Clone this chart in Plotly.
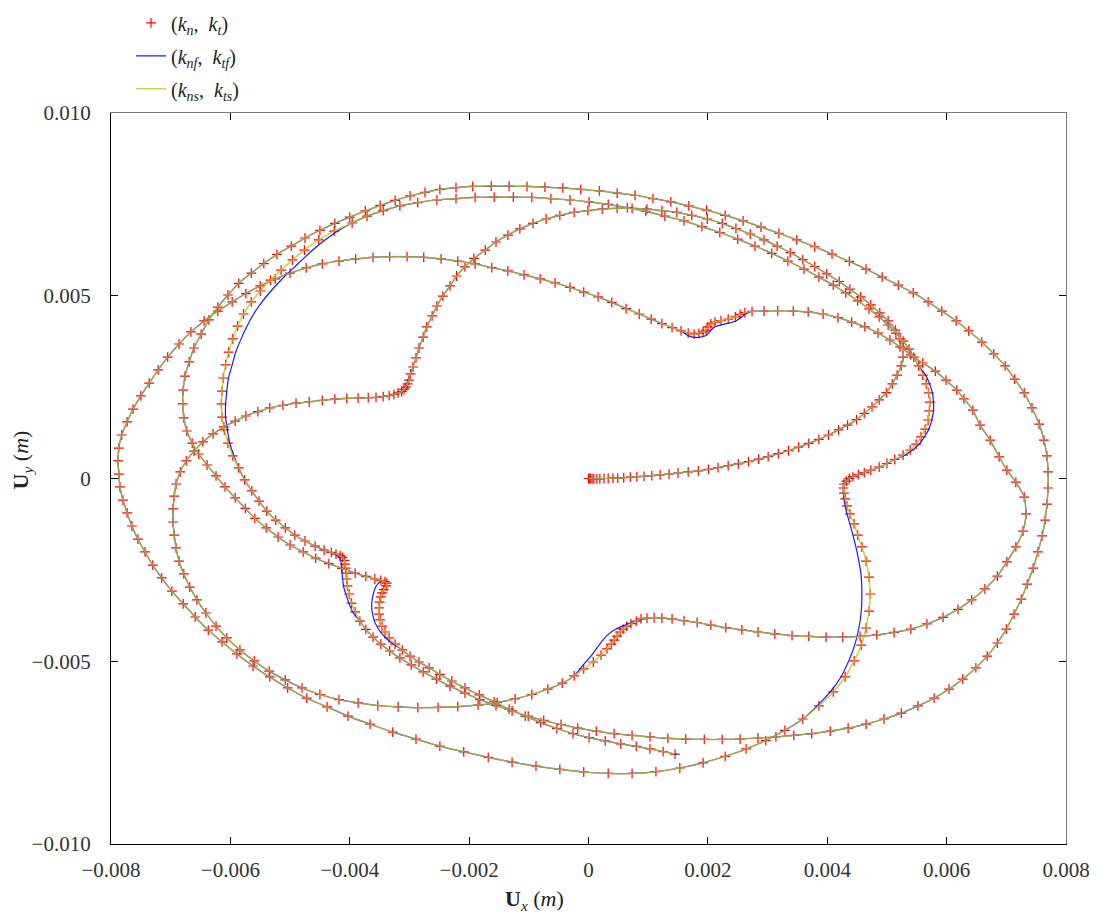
import plotly.graph_objects as go

MM = 1e-3  # values below are read in millimetres

# ---- path segments (mm) shared by the three models ----
a_x = [0, 0.01, 0.03, 0.06, 0.09, 0.14, 0.19, 0.26, 0.33, 0.41, 0.49, 0.59, 0.70, 0.81, 0.93, 1.06, 1.20, 1.35, 1.50, 1.67,
       1.84, 2.01, 2.17, 2.34, 2.51, 2.68, 2.85, 3.01, 3.18, 3.35, 3.52, 3.69, 3.86, 4.02, 4.19, 4.34, 4.49, 4.62, 4.75, 4.87,
       4.99, 5.09, 5.17, 5.24, 5.27, 5.27, 5.22, 5.14, 5.02, 4.88, 4.73, 4.56, 4.38, 4.20, 3.99, 3.79, 3.59, 3.38, 3.16, 2.94,
       2.71, 2.47, 2.24, 1.99, 1.73, 1.48, 1.23, 0.98, 0.73, 0.48, 0.23, -0.01, -0.24, -0.48, -0.71, -0.93, -1.15, -1.35, -1.55, -1.73,
       -1.92, -2.07, -2.21, -2.32, -2.44, -2.54, -2.62, -2.71, -2.77, -2.84, -2.89, -2.94, -2.98, -3.01, -3.03, -3.06, -3.09, -3.13, -3.19, -3.26,
       -3.34, -3.44, -3.56, -3.69, -3.86, -4.05, -4.25, -4.46, -4.68, -4.90, -5.12, -5.34, -5.54, -5.74, -5.92, -6.11, -6.29, -6.46, -6.61, -6.74,
       -6.84, -6.91, -6.94, -6.96, -6.96, -6.94, -6.91, -6.86, -6.78, -6.68, -6.56, -6.41, -6.24, -6.06, -5.84, -5.60, -5.35, -5.08, -4.80, -4.50,
       -4.18, -3.86, -3.53, -3.19, -2.86, -2.52, -2.19, -1.85, -1.53, -1.23, -0.95, -0.68, -0.44, -0.24]
a_y = [0, 0.00, 0.00, -0.01, -0.01, -0.01, -0.01, 0.00, 0.00, 0.01, 0.01, 0.02, 0.04, 0.05, 0.06, 0.08, 0.10, 0.12, 0.15, 0.18,
       0.21, 0.25, 0.30, 0.35, 0.40, 0.46, 0.53, 0.60, 0.68, 0.76, 0.86, 0.96, 1.07, 1.19, 1.33, 1.46, 1.61, 1.78, 1.96, 2.15,
       2.35, 2.59, 2.83, 3.08, 3.32, 3.57, 3.82, 4.06, 4.31, 4.53, 4.75, 4.97, 5.18, 5.39, 5.60, 5.80, 5.99, 6.18, 6.36, 6.53,
       6.69, 6.84, 6.98, 7.10, 7.20, 7.28, 7.33, 7.37, 7.39, 7.39, 7.37, 7.33, 7.28, 7.20, 7.10, 6.98, 6.83, 6.66, 6.47, 6.25,
       6.02, 5.79, 5.54, 5.27, 4.99, 4.72, 4.45, 4.15, 3.87, 3.57, 3.30, 3.05, 2.86, 2.69, 2.59, 2.50, 2.44, 2.38, 2.34, 2.30,
       2.27, 2.24, 2.22, 2.21, 2.20, 2.19, 2.17, 2.14, 2.10, 2.06, 2.00, 1.93, 1.83, 1.71, 1.57, 1.41, 1.22, 1.00, 0.75, 0.48,
       0.18, -0.15, -0.48, -0.83, -1.19, -1.55, -1.90, -2.26, -2.61, -2.97, -3.32, -3.68, -4.04, -4.36, -4.69, -4.99, -5.27, -5.51, -5.73, -5.91,
       -6.05, -6.14, -6.21, -6.25, -6.27, -6.26, -6.24, -6.20, -6.13, -6.03, -5.91, -5.76, -5.60, -5.40]

bk_red_x = [-0.08, 0.08, 0.21, 0.31, 0.38, 0.43, 0.48, 0.53, 0.58, 0.64, 0.71, 0.80, 0.88]
bk_red_y = [-5.21, -5.02, -4.83, -4.66, -4.53, -4.42, -4.31, -4.20, -4.12, -4.04, -3.97, -3.90, -3.84]
bk_blue_x = [-0.09, 0.03, 0.14, 0.24, 0.34, 0.44, 0.54, 0.66, 0.78, 0.88]
bk_blue_y = [-5.10, -4.88, -4.64, -4.42, -4.25, -4.14, -4.06, -3.98, -3.91, -3.86]

c_x = [0.98, 1.10, 1.23, 1.40, 1.60, 1.82, 2.05, 2.30, 2.57, 2.84, 3.12, 3.41, 3.69, 3.98, 4.26, 4.55, 4.83, 5.12, 5.40, 5.67,
       5.94, 6.19, 6.42, 6.64, 6.85, 7.01, 7.16, 7.28, 7.33, 7.30, 7.16, 7.01, 6.88, 6.73, 6.56, 6.44, 6.29, 6.17, 5.99, 5.81,
       5.60, 5.40, 5.22, 5.05, 4.85, 4.63, 4.41, 4.18, 3.93, 3.68, 3.43, 3.17, 2.94, 2.74]
c_y = [-3.82, -3.81, -3.82, -3.84, -3.89, -3.94, -4.01, -4.08, -4.14, -4.20, -4.25, -4.30, -4.32, -4.34, -4.34, -4.32, -4.28, -4.21, -4.12, -3.98,
       -3.80, -3.58, -3.32, -3.02, -2.67, -2.28, -1.87, -1.44, -0.97, -0.51, -0.10, 0.23, 0.59, 1.05, 1.46, 1.87, 2.18, 2.42, 2.69, 2.94,
       3.16, 3.38, 3.60, 3.79, 3.98, 4.15, 4.28, 4.40, 4.50, 4.56, 4.58, 4.59, 4.58, 4.57]

d_red_x = [2.62, 2.54, 2.46, 2.34, 2.22, 2.12, 2.05, 2.00, 1.97, 1.92, 1.85, 1.77, 1.67]
d_red_y = [4.54, 4.49, 4.42, 4.36, 4.32, 4.28, 4.23, 4.15, 4.06, 4.01, 3.97, 3.95, 3.98]
d_blue_x = [2.64, 2.55, 2.47, 2.35, 2.24, 2.13, 2.07, 2.02, 1.97, 1.88, 1.78, 1.67]
d_blue_y = [4.51, 4.40, 4.31, 4.25, 4.21, 4.16, 4.09, 3.99, 3.91, 3.87, 3.86, 3.91]

e_x = [1.55, 1.40, 1.23, 1.05, 0.85, 0.63, 0.39, 0.16, -0.08, -0.31, -0.56, -0.81, -1.08, -1.35, -1.62, -1.90, -2.19, -2.47, -2.76, -3.04,
       -3.33, -3.61, -3.90, -4.18, -4.46, -4.73, -5.00, -5.25, -5.50, -5.74, -5.97, -6.21, -6.44, -6.66, -6.86, -7.05, -7.21, -7.36, -7.50, -7.63,
       -7.73, -7.82, -7.87, -7.88, -7.87, -7.85, -7.80, -7.73, -7.65, -7.55, -7.43, -7.30, -7.15, -6.98, -6.79, -6.59, -6.37, -6.14, -5.89, -5.62,
       -5.34, -5.04, -4.72, -4.38, -4.03, -3.66, -3.28, -2.89, -2.49, -2.09, -1.68, -1.28, -0.88, -0.48, -0.08, 0.33, 0.73, 1.13, 1.53, 1.92,
       2.29, 2.64, 2.97, 3.29, 3.59]
e_y = [4.04, 4.13, 4.24, 4.36, 4.50, 4.65, 4.82, 4.97, 5.10, 5.23, 5.35, 5.46, 5.57, 5.68, 5.77, 5.87, 5.95, 6.01, 6.05, 6.07,
       6.07, 6.05, 6.01, 5.95, 5.87, 5.76, 5.62, 5.46, 5.27, 5.06, 4.83, 4.58, 4.31, 4.01, 3.68, 3.32, 2.97, 2.61, 2.26, 1.90,
       1.55, 1.19, 0.83, 0.48, 0.12, -0.23, -0.59, -0.94, -1.30, -1.66, -2.01, -2.37, -2.72, -3.08, -3.43, -3.79, -4.15, -4.47, -4.80, -5.13,
       -5.43, -5.73, -6.01, -6.25, -6.50, -6.72, -6.94, -7.13, -7.32, -7.48, -7.63, -7.76, -7.87, -7.96, -8.03, -8.07, -8.07, -8.02, -7.92, -7.78,
       -7.60, -7.40, -7.17, -6.89, -6.58]

f_red_x = [3.86, 4.10, 4.30, 4.45, 4.57, 4.65, 4.70, 4.72, 4.70, 4.65, 4.58, 4.51, 4.45, 4.38, 4.33, 4.30, 4.28]
f_red_y = [-6.22, -5.84, -5.43, -4.99, -4.56, -4.09, -3.63, -3.16, -2.70, -2.26, -1.87, -1.55, -1.24, -0.97, -0.75, -0.56, -0.40]
f_blue_x = [3.83, 4.05, 4.23, 4.36, 4.46, 4.53, 4.57, 4.58, 4.57, 4.53, 4.48, 4.43, 4.38, 4.33, 4.30, 4.28, 4.27]
f_blue_y = [-6.22, -5.84, -5.43, -4.99, -4.56, -4.09, -3.63, -3.16, -2.70, -2.26, -1.87, -1.55, -1.24, -0.97, -0.75, -0.56, -0.40]

g_x = [4.27, 4.28, 4.32, 4.37, 4.43, 4.52, 4.62, 4.73, 4.87, 5.00, 5.13]
g_y = [-0.26, -0.15, -0.07, 0.00, 0.05, 0.11, 0.16, 0.23, 0.31, 0.41, 0.52]

h_red_x = [5.27, 5.39, 5.49, 5.57, 5.64, 5.69, 5.71, 5.72, 5.70, 5.66, 5.60]
h_red_y = [0.64, 0.78, 0.94, 1.14, 1.35, 1.60, 1.85, 2.09, 2.34, 2.59, 2.83]
h_blue_x = [5.28, 5.41, 5.53, 5.62, 5.70, 5.75, 5.78, 5.78, 5.76, 5.71, 5.64]
h_blue_y = [0.62, 0.76, 0.92, 1.12, 1.34, 1.59, 1.85, 2.10, 2.36, 2.61, 2.85]

i_x = [5.53, 5.45, 5.37, 5.27, 5.15, 5.02, 4.87, 4.70, 4.51, 4.31, 4.10, 3.86, 3.61, 3.34, 3.07, 2.79, 2.50, 2.20, 1.90, 1.60,
       1.28, 0.96, 0.65, 0.33, 0.01, -0.31, -0.63, -0.95, -1.26, -1.58, -1.90, -2.22, -2.54, -2.86, -3.16, -3.44, -3.71, -3.96]
i_y = [3.08, 3.32, 3.54, 3.76, 3.98, 4.20, 4.42, 4.64, 4.86, 5.08, 5.29, 5.51, 5.73, 5.95, 6.16, 6.36, 6.55, 6.73, 6.89, 7.05,
       7.18, 7.31, 7.41, 7.50, 7.57, 7.62, 7.66, 7.69, 7.70, 7.70, 7.69, 7.66, 7.62, 7.55, 7.46, 7.33, 7.18, 6.99]

j_red_x = [-4.26, -4.52, -4.76, -4.96, -5.15, -5.33, -5.50, -5.65, -5.78, -5.88, -5.96, -6.03, -6.08, -6.12, -6.14, -6.15, -6.14, -6.10, -6.04, -5.96]
j_blue_x = [-4.20, -4.41, -4.62, -4.80, -4.98, -5.15, -5.32, -5.47, -5.61, -5.72, -5.82, -5.91, -5.97, -6.03, -6.06, -6.08, -6.08, -6.05, -6.01, -5.94]
j_y = [6.77, 6.53, 6.25, 5.98, 5.70, 5.43, 5.13, 4.83, 4.50, 4.17, 3.82, 3.46, 3.11, 2.75, 2.39, 2.04, 1.68, 1.33, 0.97, 0.62]

k_x = [-5.86, -5.76, -5.64, -5.52, -5.39, -5.24, -5.08, -4.92, -4.75, -4.58, -4.43, -4.31]
k_y = [0.29, -0.04, -0.34, -0.62, -0.89, -1.14, -1.35, -1.55, -1.71, -1.85, -1.96, -2.02]

l_red_x = [-4.23, -4.16, -4.12, -4.09, -4.08, -4.07, -4.06, -4.05, -4.04, -4.01, -3.97, -3.91]
l_red_y = [-2.07, -2.11, -2.16, -2.24, -2.34, -2.45, -2.59, -2.75, -2.94, -3.16, -3.41, -3.65]
l_blue_x = [-4.23, -4.18, -4.15, -4.14, -4.13, -4.12, -4.10, -4.06, -4.01, -3.94]
l_blue_y = [-2.08, -2.15, -2.26, -2.40, -2.56, -2.75, -2.97, -3.19, -3.43, -3.68]

m_x = [-3.83, -3.73, -3.61, -3.48, -3.33, -3.16, -2.97, -2.77, -2.55, -2.32, -2.07, -1.82, -1.55, -1.28, -1.01, -0.75, -0.46, -0.18, 0.13, 0.43,
       0.73, 1.03, 1.33, 1.63, 1.94, 2.24, 2.54, 2.84, 3.14, 3.44, 3.74, 4.05, 4.35, 4.65, 4.95, 5.24, 5.52, 5.79, 6.04, 6.27,
       6.49, 6.68, 6.85, 7.00, 7.13, 7.25, 7.35, 7.45, 7.53, 7.60, 7.65, 7.68, 7.70, 7.70, 7.68, 7.63, 7.55, 7.43, 7.30, 7.14,
       6.98, 6.79, 6.59, 6.37, 6.16, 5.92, 5.69, 5.44, 5.19, 4.92, 4.65, 4.37, 4.08, 3.79, 3.49, 3.19, 2.89, 2.59, 2.29, 1.98,
       1.68, 1.38, 1.08, 0.78, 0.48, 0.18, -0.13, -0.43, -0.73, -1.03, -1.33, -1.63, -1.94, -2.22, -2.49, -2.74, -2.99, -3.24, -3.49, -3.74,
       -4.00, -4.25, -4.50, -4.75, -4.98, -5.22, -5.44, -5.65, -5.86, -6.04, -6.21, -6.36, -6.49, -6.61, -6.69, -6.76, -6.79, -6.80, -6.78, -6.73,
       -6.64, -6.53, -6.39, -6.24, -6.09, -5.92, -5.75, -5.59, -5.40, -5.20, -5.00, -4.78, -4.57, -4.35, -4.13, -3.91, -3.73, -3.58, -3.48]
m_y = [-3.90, -4.13, -4.34, -4.53, -4.72, -4.91, -5.10, -5.29, -5.49, -5.68, -5.87, -6.05, -6.21, -6.36, -6.50, -6.62, -6.73, -6.83, -6.91, -6.98,
       -7.03, -7.07, -7.11, -7.13, -7.14, -7.14, -7.13, -7.10, -7.07, -7.03, -6.98, -6.91, -6.83, -6.72, -6.58, -6.42, -6.22, -6.01, -5.76, -5.49,
       -5.18, -4.86, -4.50, -4.12, -3.71, -3.30, -2.89, -2.45, -2.01, -1.57, -1.14, -0.70, -0.26, 0.18, 0.62, 1.05, 1.49, 1.93, 2.34, 2.72,
       3.08, 3.41, 3.73, 4.04, 4.31, 4.58, 4.83, 5.08, 5.29, 5.51, 5.73, 5.94, 6.14, 6.34, 6.53, 6.71, 6.88, 7.05, 7.20, 7.34,
       7.46, 7.57, 7.66, 7.75, 7.81, 7.87, 7.91, 7.95, 7.97, 7.99, 8.00, 8.00, 7.99, 7.96, 7.91, 7.83, 7.73, 7.61, 7.47, 7.32,
       7.15, 6.98, 6.79, 6.58, 6.36, 6.13, 5.88, 5.62, 5.34, 5.02, 4.69, 4.34, 3.95, 3.57, 3.19, 2.80, 2.42, 2.04, 1.66, 1.30,
       0.97, 0.67, 0.37, 0.07, -0.23, -0.53, -0.82, -1.09, -1.35, -1.60, -1.82, -2.01, -2.18, -2.33, -2.46, -2.59, -2.68, -2.75, -2.79]

n_red_x = [-3.41, -3.38, -3.39, -3.43, -3.46, -3.48, -3.50, -3.51, -3.51, -3.49, -3.46, -3.41, -3.34, -3.24]
n_red_y = [-2.82, -2.86, -2.94, -3.04, -3.13, -3.24, -3.38, -3.54, -3.71, -3.87, -4.04, -4.20, -4.36, -4.53]
n_blue_x = [-3.50, -3.53, -3.58, -3.61, -3.63, -3.63, -3.61, -3.58, -3.53, -3.46, -3.36, -3.24]
n_blue_y = [-2.83, -2.88, -3.02, -3.19, -3.38, -3.57, -3.76, -3.93, -4.09, -4.25, -4.42, -4.56]

o_x = [-3.12, -2.99, -2.84, -2.67, -2.49, -2.29, -2.07, -1.83, -1.58, -1.33, -1.06, -0.80, -0.53, -0.26, 0.01, 0.28, 0.54, 0.80, 1.03, 1.25, 1.45]
o_y = [-4.69, -4.86, -5.02, -5.18, -5.36, -5.54, -5.73, -5.92, -6.11, -6.31, -6.50, -6.68, -6.84, -6.98, -7.09, -7.18, -7.26, -7.33, -7.40, -7.47, -7.54]
blue_end_x = [1.48]
blue_end_y = [-7.55]

# ---- axis ticks ----
x_tick_vals = [-0.008, -0.006, -0.004, -0.002, 0, 0.002, 0.004, 0.006, 0.008]
x_tick_text = ["\u22120.008", "\u22120.006", "\u22120.004", "\u22120.002", "0", "0.002", "0.004", "0.006", "0.008"]
y_tick_vals = [-0.010, -0.005, 0, 0.005, 0.010]
y_tick_text = ["\u22120.010", "\u22120.005", "0", "0.005", "0.010"]


def cat(*parts):
    out = []
    for p in parts:
        out += p
    return [v * MM for v in out]


red_x = cat(a_x, bk_red_x, c_x, d_red_x, e_x, f_red_x, g_x, h_red_x, i_x, j_red_x, k_x, l_red_x, m_x, n_red_x, o_x)
red_y = cat(a_y, bk_red_y, c_y, d_red_y, e_y, f_red_y, g_y, h_red_y, i_y, j_y, k_y, l_red_y, m_y, n_red_y, o_y)
blue_x = cat(a_x, bk_blue_x, c_x, d_blue_x, e_x, f_blue_x, g_x, h_blue_x, i_x, j_blue_x, k_x, l_blue_x, m_x, n_blue_x, o_x, blue_end_x)
blue_y = cat(a_y, bk_blue_y, c_y, d_blue_y, e_y, f_blue_y, g_y, h_blue_y, i_y, j_y, k_y, l_blue_y, m_y, n_blue_y, o_y, blue_end_y)

SERIF = "Liberation Serif"

fig = go.Figure()
fig.add_trace(go.Scatter(
    x=red_x, y=red_y, mode="markers", name="(<i>k</i><sub><i>n</i></sub>,  <i>k</i><sub><i>t</i></sub>)",
    marker=dict(symbol="cross-thin", size=7, color="red", line=dict(color="red", width=1.2)),
    legendgroup="a"))
fig.add_trace(go.Scatter(
    x=blue_x, y=blue_y, mode="lines", name="(<i>k</i><sub><i>nf</i></sub>,  <i>k</i><sub><i>tf</i></sub>)",
    line=dict(color="#1a1aff", width=1.2, shape="spline", smoothing=0.6), legendgroup="b"))
fig.add_trace(go.Scatter(
    x=red_x, y=red_y, mode="lines", name="(<i>k</i><sub><i>ns</i></sub>,  <i>k</i><sub><i>ts</i></sub>)",
    line=dict(color="#c4c41c", width=1.5, shape="spline", smoothing=0.6), opacity=0.8, legendgroup="c"))
fig.add_trace(go.Scatter(x=[], y=[], xaxis="x2", yaxis="y2", showlegend=False, hoverinfo="skip"))

axis_common = dict(showgrid=False, zeroline=False, ticks="inside", ticklen=7, tickwidth=1, tickcolor="black")

fig.update_layout(
    width=1094, height=906,
    margin=dict(l=103, r=36, t=105, b=70, autoexpand=False),
    paper_bgcolor="white", plot_bgcolor="white",
    font=dict(family=SERIF, size=20, color="#222"),
    showlegend=True,
    legend=dict(x=0.021, y=1.150, xanchor="left", yanchor="top", bgcolor="rgba(0,0,0,0)",
                font=dict(family=SERIF, size=20, color="#222"), itemwidth=30,
                traceorder="grouped", tracegroupgap=4),
    xaxis=dict(range=[-0.008, 0.008], tickvals=x_tick_vals, ticktext=x_tick_text,
               showline=True, linecolor="black", linewidth=1.2, mirror=False,
               tickfont=dict(family=SERIF, size=21, color="#333"), ticklabelstandoff=7, **axis_common),
    yaxis=dict(range=[-0.010, 0.010], tickvals=y_tick_vals, ticktext=y_tick_text,
               showline=True, linecolor="black", linewidth=1.2, mirror=False,
               tickfont=dict(family=SERIF, size=21, color="#333"), ticklabelstandoff=15, **axis_common),
    xaxis2=dict(range=[-0.008, 0.008], overlaying="x", side="top", tickvals=x_tick_vals,
                showticklabels=False, showline=True, linecolor="#7a7a7a", linewidth=1.2, **axis_common),
    yaxis2=dict(range=[-0.010, 0.010], overlaying="y", side="right", tickvals=y_tick_vals,
                showticklabels=False, showline=True, linecolor="#7a7a7a", linewidth=1.2, **axis_common),
    annotations=[
        dict(text="<b>U</b><sub><i>x</i></sub> (<i>m</i>)", xref="paper", yref="paper", x=0.443, y=-0.077,
             xanchor="center", yanchor="middle", showarrow=False, font=dict(family=SERIF, size=22, color="#222")),
        dict(text="<b>U</b><sub><i>y</i></sub> (<i>m</i>)", xref="paper", yref="paper", x=-0.093, y=0.525,
             xanchor="center", yanchor="middle", showarrow=False, textangle=-90,
             font=dict(family=SERIF, size=22, color="#222")),
    ],
)

fig.write_html("out.html")
